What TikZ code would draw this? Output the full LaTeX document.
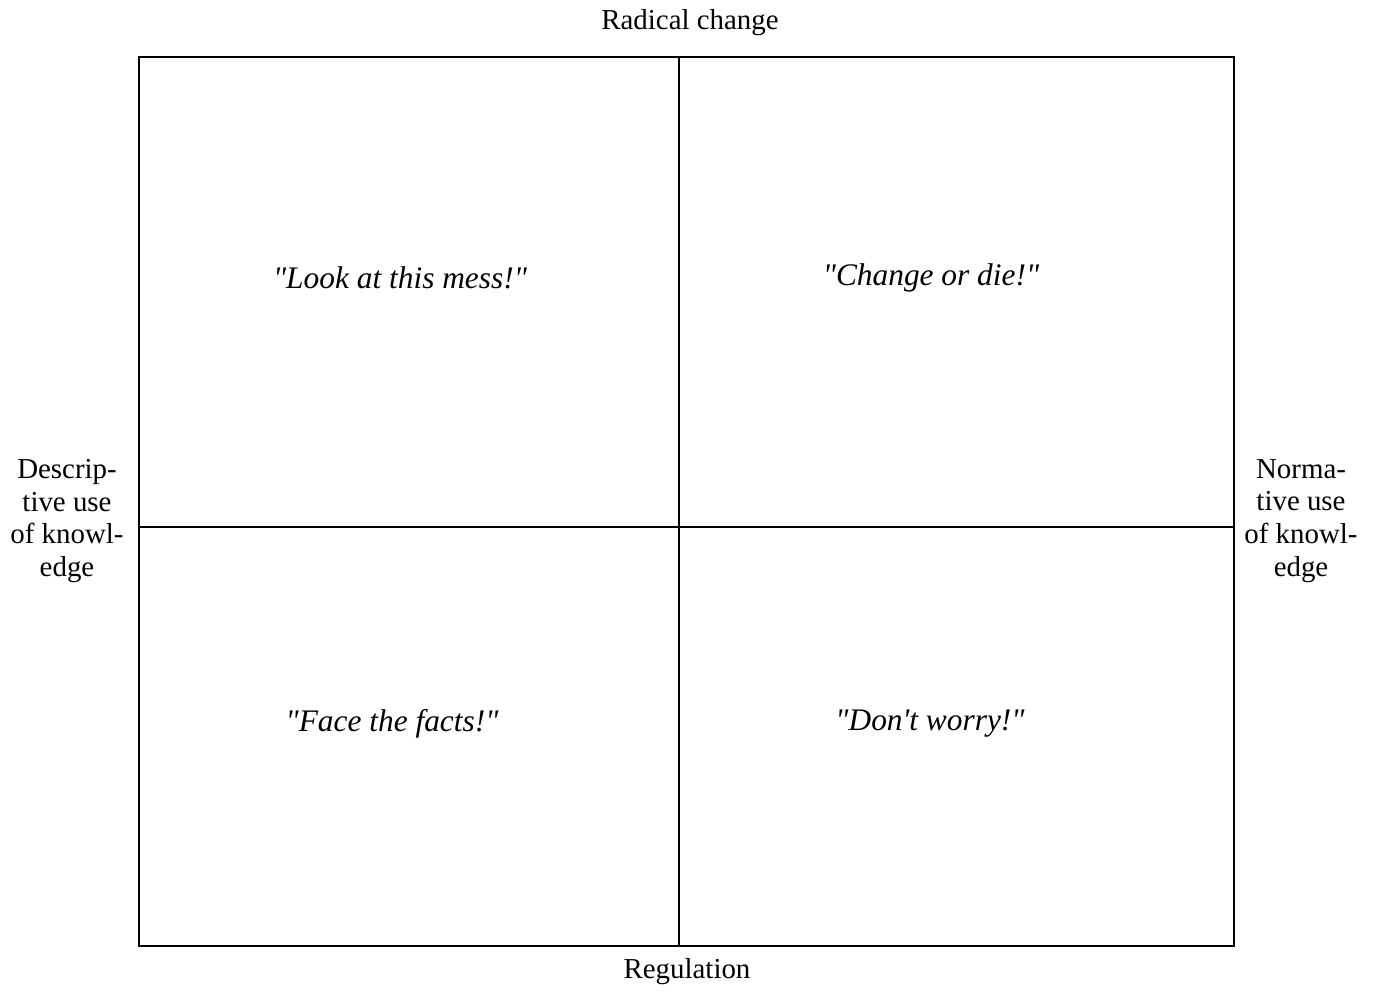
\documentclass[tikz,border=0pt]{standalone}
\usepackage{fontspec}
\setmainfont{Liberation Serif}
\usetikzlibrary{positioning}
\tikzset{
    axislabel/.style={
        align=center,
        inner sep=0pt,
        font=\fontsize{29}{33}\selectfont
    },
    quote/.style={
        inner sep=0pt,
        font=\fontsize{31.5}{36}\selectfont\itshape
    },
    frame/.style={
        draw=black,
        line width=1.6bp
    }
}
\newcommand{\dq}{\textquotedbl}
\begin{document}
\begin{tikzpicture}[x=1bp, y=-1bp]
\useasboundingbox (0,0) rectangle (1377,992);
\coordinate (nw) at (139,57);
\coordinate (se) at (1234,946);
\coordinate (top) at (679,57);
\coordinate (bottom) at (679,946);
\coordinate (left) at (139,527);
\coordinate (right) at (1234,527);

\draw[frame] (nw) rectangle (se);
\draw[frame] (top) -- (bottom);
\draw[frame] (left) -- (right);

\node[axislabel] (radical) at (690,23) {Radical change};
\node[axislabel] (regulation) at (687,972) {Regulation};
\node[axislabel] (descriptive) at (67,521) {Descrip-\\tive use\\of knowl-\\edge};
\node[axislabel] (normative) at (1301,521) {Norma-\\tive use\\of knowl-\\edge};

\node[quote] (mess) at (400,278) {\dq Look at this mess!\dq};
\node[quote] (die) at (931,278) {\dq Change or die!\dq};
\node[quote] (facts) at (392,724) {\dq Face the facts!\dq};
\node[quote] (worry) at (930,724) {\dq Don\textquotesingle t worry!\dq};
\end{tikzpicture}
\end{document}
